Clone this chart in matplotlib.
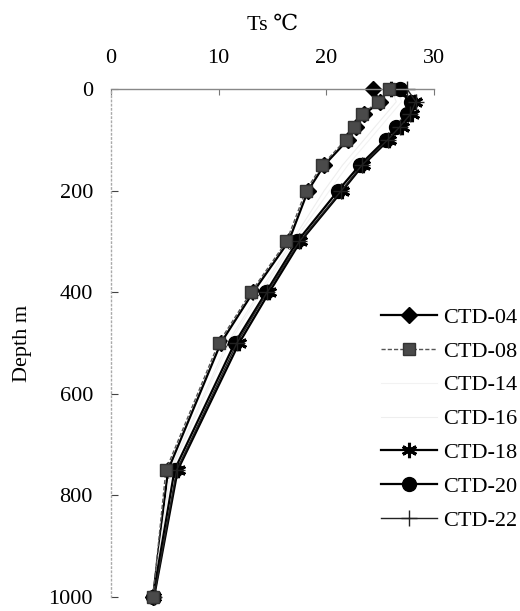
import matplotlib
matplotlib.use("Agg")
import matplotlib.pyplot as plt

plt.rcParams['font.family'] = ['Liberation Serif', 'DejaVu Serif']

# ---- data ----
depths = [0, 25, 50, 75, 100, 150, 200, 300, 400, 500, 750, 1000]

ctd04 = [24.3, 25.0, 23.5, 22.8, 22.0, 19.8, 18.3, 16.5, 13.2, 10.2, 5.3, 3.9]
ctd08 = [25.8, 24.8, 23.3, 22.6, 21.8, 19.6, 18.1, 16.3, 13.0, 10.0, 5.1, 3.9]
ctd14 = [26.5, 27.0, 26.0, 25.0, 24.0, 22.0, 20.3, 17.0, 14.0, 11.0, 5.6, 3.9]
ctd16 = [26.0, 26.5, 25.5, 24.5, 23.5, 21.5, 19.8, 16.8, 13.8, 10.8, 5.5, 3.9]
ctd18 = [26.0, 28.2, 28.0, 27.0, 25.8, 23.4, 21.5, 17.6, 14.7, 11.9, 6.2, 4.0]
ctd20 = [26.8, 27.9, 27.5, 26.5, 25.5, 23.1, 21.1, 17.3, 14.4, 11.5, 5.9, 3.9]
ctd22 = [27.5, 28.3, 27.8, 26.8, 25.7, 23.3, 21.4, 17.5, 14.5, 11.7, 6.1, 4.0]

xticks = [0, 10, 20, 30]
yticks = [0, 200, 400, 600, 800, 1000]

fig = plt.figure(figsize=(5.2, 6.11), dpi=100)
ax = fig.add_axes([111/520, 1-597/611, (434-111)/520, (597-89)/611])

kw = dict(clip_on=False)
ax.plot(ctd04, depths, color='black', lw=1.6, marker='D', ms=8, label='CTD-04', **kw)
ax.plot(ctd08, depths, color='#555555', lw=1.0, ls=(0, (3, 1.5)), marker='s', ms=8,
        mfc='#4a4a4a', mec='#333333', label='CTD-08', zorder=5, **kw)
ax.plot(ctd14, depths, color='#f2f2f2', lw=0.8, label='CTD-14', **kw)
ax.plot(ctd16, depths, color='#eeeeee', lw=0.8, label='CTD-16', **kw)
ax.plot(ctd18, depths, color='black', lw=1.6, marker=(6, 2, 0), ms=11, mew=2.2,
        label='CTD-18', **kw)
ax.plot(ctd20, depths, color='black', lw=1.6, marker='o', ms=10, label='CTD-20', **kw)
ax.plot(ctd22, depths, color='#222222', lw=1.0, marker='+', ms=11, mew=1.0,
        label='CTD-22', **kw)

ax.set_xlim(0, 30)
ax.set_ylim(1000, 0)
ax.set_xticks(xticks)
ax.set_yticks(yticks)
ax.xaxis.tick_top()
ax.xaxis.set_label_position('top')
ax.tick_params(axis='x', direction='in', length=4, labelsize=16, pad=15, color='#777777')
ax.tick_params(axis='y', direction='in', length=5, labelsize=16, pad=13, color='#444444')

ax.set_xlabel('Ts ℃', fontsize=16, labelpad=14)
ax.set_ylabel('Depth m', fontsize=16, labelpad=12)

for s in ['right', 'bottom']:
    ax.spines[s].set_visible(False)
ax.spines['top'].set_color('#888888')
ax.spines['top'].set_linewidth(1.0)
ax.spines['left'].set_color('#aaaaaa')
ax.spines['left'].set_linestyle((0, (1, 2)))
ax.spines['left'].set_linewidth(1.0)

ax.legend(loc='upper left', bbox_to_anchor=(370/520, 1-296/611),
          bbox_transform=fig.transFigure, frameon=False, fontsize=16,
          handlelength=2.5, handletextpad=0.3, labelspacing=0.6, borderpad=0)

fig.savefig('out.png', dpi=100)
